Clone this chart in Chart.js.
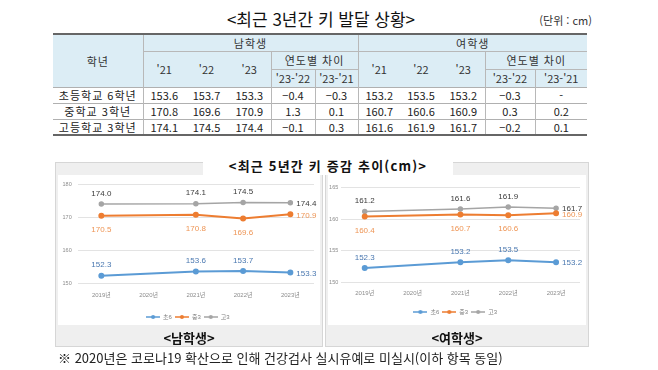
<!DOCTYPE html>
<html lang="ko">
<head>
<meta charset="utf-8">
<script src="https://cdn.jsdelivr.net/npm/chart.js@4.4.1/dist/chart.umd.min.js"></script>
<style>
  html, body { margin: 0; padding: 0; background: #fff; }
  body { width: 658px; height: 370px; position: relative; overflow: hidden;
         font-family: 'Noto Sans CJK KR', sans-serif; color: #222; }
  .abs { position: absolute; }
  #title { left: 0; width: 642px; top: 7px; text-align: center; font-size: 17px; line-height: 24px; color: #111; }
  #unit { right: 66px; top: 13px; font-size: 11px; line-height: 14px; color: #333; }
  #tbl { left: 53px; top: 33px; width: 534px; border-collapse: collapse; table-layout: fixed;
         font-size: 11px; border-top: 2px solid #666; border-bottom: 2px solid #666; }
  #tbl td { padding: 0; text-align: center; line-height: 14px; white-space: nowrap; overflow: hidden; }
  #tbl td.h { background: #dcedf5; color: #333; }
  #tbl td.kr { letter-spacing: 1px; }
  #tbl td.vl { border-left: 1px solid #b8b8b8; }
  #tbl td.bb { border-bottom: 1px solid #b8b8b8; }
  #tbl tr.data td { border-top: 1px solid #b0b0b0; }
  .panel { background: #efefef; border: 1px solid #d6d6d6; box-sizing: border-box; }
  .inner { background: #fff; }
  #ctitle { left: 203px; top: 155px; width: 250px; height: 20px; background: #fff; text-align: center;
            font-size: 13px; font-weight: bold; line-height: 22px; letter-spacing: 1.2px; color: #111; }
  .plabel { font-size: 13px; font-weight: bold; line-height: 16px; text-align: center; color: #111; }
  #note { left: 58px; top: 349px; font-size: 13px; line-height: 18px; color: #222; white-space: nowrap; }
</style>
</head>
<body>
<div id="title" class="abs">&lt;최근 3년간 키 발달 상황&gt;</div>
<div id="unit" class="abs">(단위 : cm)</div>
<table id="tbl" class="abs">
  <colgroup>
    <col style="width:90px"><col style="width:42px"><col style="width:43px"><col style="width:43px">
    <col style="width:44px"><col style="width:43px"><col style="width:42px"><col style="width:42px">
    <col style="width:43px"><col style="width:50px"><col style="width:52px">
  </colgroup>
  <tbody id="tbody"></tbody>
</table>

<div class="abs panel" style="left:55px;top:162px;width:268px;height:185px"></div>
<div class="abs inner" style="left:58px;top:175px;width:262px;height:150px"></div>
<div class="abs panel" style="left:325px;top:162px;width:264px;height:185px"></div>
<div class="abs inner" style="left:328px;top:175px;width:258px;height:150px"></div>
<div id="ctitle" class="abs">&lt;최근 5년간 키 증감 추이(cm)&gt;</div>
<canvas id="boyChart" class="abs" style="left:58px;top:175px" width="262" height="155"></canvas>
<canvas id="girlChart" class="abs" style="left:328px;top:175px" width="258" height="150"></canvas>
<div class="abs plabel" style="left:55px;top:330px;width:268px">&lt;남학생&gt;</div>
<div class="abs plabel" style="left:325px;top:330px;width:264px">&lt;여학생&gt;</div>
<div id="note" class="abs">※ 2020년은 코로나19 확산으로 인해 건강검사 실시유예로 미실시(이하 항목 동일)</div>

<script>
// 표 데이터
const tableGrades = ['초등학교 6학년', '중학교 3학년', '고등학교 3학년'];
const tableYears = ["'21", "'22", "'23"];
const tableDiffs = ["'23-'22", "'23-'21"];
const boyHeights = [[153.6, 153.7, 153.3], [170.8, 169.6, 170.9], [174.1, 174.5, 174.4]];
const boyDiffs = [['−0.4', '−0.3'], ['1.3', '0.1'], ['−0.1', '0.3']];
const girlHeights = [[153.2, 153.5, 153.2], [160.7, 160.6, 160.9], [161.6, 161.9, 161.7]];
const girlDiffs = [['−0.3', '-'], ['0.3', '0.2'], ['−0.2', '0.1']];

// 그래프 데이터 (2020년은 미실시)
const years = ['2019년', '2020년', '2021년', '2022년', '2023년'];
const seriesNames = ['초6', '중3', '고3'];
const boyE6 = [152.3, null, 153.6, 153.7, 153.3];
const boyM3 = [170.5, null, 170.8, 169.6, 170.9];
const boyH3 = [174.0, null, 174.1, 174.5, 174.4];
const girlE6 = [152.3, null, 153.2, 153.5, 153.2];
const girlM3 = [160.4, null, 160.7, 160.6, 160.9];
const girlH3 = [161.2, null, 161.6, 161.9, 161.7];
const boyYTicks = [150, 160, 170, 180];
const girlYTicks = [150, 155, 160, 165];

// 표 만들기
const tbody = document.getElementById('tbody');
function td(text, cls, attrs) {
  const c = document.createElement('td');
  c.textContent = text;
  if (cls) c.className = cls;
  if (attrs) Object.entries(attrs).forEach(([k, v]) => c.setAttribute(k, v));
  return c;
}
let tr = document.createElement('tr');
tr.style.height = '17px';
tr.appendChild(td('학년', 'h kr', { rowspan: 3 }));
tr.appendChild(td('남학생', 'h kr vl bb', { colspan: 5 }));
tr.appendChild(td('여학생', 'h kr vl bb', { colspan: 5 }));
tbody.appendChild(tr);

tr = document.createElement('tr');
tr.style.height = '18px';
[0, 1].forEach(g => {
  tableYears.forEach((y, i) => tr.appendChild(td(y, 'h' + (i === 0 ? ' vl' : ''), { rowspan: 2 })));
  tr.appendChild(td('연도별 차이', 'h kr vl bb', { colspan: 2 }));
});
tbody.appendChild(tr);

tr = document.createElement('tr');
tr.style.height = '18px';
[0, 1].forEach(g => {
  tableDiffs.forEach(d => tr.appendChild(td(d, 'h vl')));
});
tbody.appendChild(tr);

tableGrades.forEach((name, r) => {
  const row = document.createElement('tr');
  row.className = 'data';
  row.style.height = '16px';
  row.appendChild(td(name, 'kr'));
  [[boyHeights, boyDiffs], [girlHeights, girlDiffs]].forEach(([hs, ds]) => {
    hs[r].forEach((v, i) => row.appendChild(td(v.toFixed(1), i === 0 ? 'vl' : '')));
    ds[r].forEach(v => row.appendChild(td(v, 'vl')));
  });
  tbody.appendChild(row);
});

// 그래프
Chart.defaults.font.family = "'Liberation Sans', 'Noto Sans CJK KR', sans-serif";
const BLUE = '#5b9bd5', ORANGE = '#ed7d31', GREY = '#a5a5a5';

function legendIcon(color) {
  const c = document.createElement('canvas');
  c.width = 14; c.height = 6;
  const x = c.getContext('2d');
  x.strokeStyle = color; x.lineWidth = 1.5;
  x.beginPath(); x.moveTo(0, 3); x.lineTo(14, 3); x.stroke();
  x.fillStyle = color;
  x.beginPath(); x.arc(7, 3, 2, 0, Math.PI * 2); x.fill();
  return c;
}
const icons = [legendIcon(BLUE), legendIcon(ORANGE), legendIcon(GREY)];

// 값 라벨
const valueLabels = {
  id: 'valueLabels',
  afterDatasetsDraw(chart) {
    const ctx = chart.ctx;
    chart.data.datasets.forEach((ds, di) => {
      const meta = chart.getDatasetMeta(di);
      meta.data.forEach((pt, i) => {
        const v = ds.data[i];
        if (v == null) return;
        ctx.save();
        ctx.font = "8px 'Liberation Sans', sans-serif";
        ctx.fillStyle = ds.labelColor;
        ctx.textBaseline = 'middle';
        if (i === ds.data.length - 1) {
          ctx.textAlign = 'left';
          ctx.fillText(v.toFixed(1), pt.x + 6, pt.y + 1);
        } else {
          ctx.textAlign = 'center';
          ctx.fillText(v.toFixed(1), pt.x, pt.y + (ds.labelSide === 'top' ? -10.5 : 14));
        }
        ctx.restore();
      });
    });
  }
};

function buildChart(id, e6, m3, h3, yTicks, lay) {
  return new Chart(document.getElementById(id), {
    type: 'line',
    data: {
      labels: years,
      datasets: [
        { label: seriesNames[0], data: e6, borderColor: BLUE, backgroundColor: BLUE, borderWidth: 2,
          labelColor: '#4a78b0', labelSide: 'top' },
        { label: seriesNames[1], data: m3, borderColor: ORANGE, backgroundColor: ORANGE, borderWidth: 2,
          labelColor: '#ee9555', labelSide: 'bottom' },
        { label: seriesNames[2], data: h3, borderColor: GREY, backgroundColor: GREY, borderWidth: 1.5,
          labelColor: '#3a3a3a', labelSide: 'top' }
      ]
    },
    options: {
      responsive: false,
      animation: false,
      devicePixelRatio: 1,
      spanGaps: true,
      elements: { point: { radius: 2, borderWidth: 1 }, line: { tension: 0 } },
      layout: { padding: { top: lay.top, left: 0, right: lay.right, bottom: 0 } },
      scales: {
        x: {
          offset: true,
          grid: { display: false, drawTicks: false },
          border: { display: false },
          ticks: { font: { size: 6 }, color: '#8c8c8c', padding: lay.xPad, maxRotation: 0 },
          afterFit(s) { s.height = lay.xh; }
        },
        y: {
          min: yTicks[0],
          max: yTicks[yTicks.length - 1],
          afterBuildTicks(s) { s.ticks = yTicks.map(v => ({ value: v })); },
          ticks: { font: { size: 5.5 }, color: '#8c8c8c', padding: lay.yPad },
          grid: { color: '#e3e3e3', drawTicks: false },
          border: { display: false },
          afterFit(s) { s.width = lay.yw; }
        }
      },
      plugins: {
        tooltip: { enabled: false },
        legend: {
          position: 'bottom',
          labels: {
            usePointStyle: true,
            pointStyleWidth: 14,
            boxHeight: 6,
            padding: 3,
            font: { size: 6 },
            color: '#7f7f7f',
            generateLabels(chart) {
              const items = Chart.defaults.plugins.legend.labels.generateLabels(chart);
              items.forEach((it, i) => { it.pointStyle = icons[i]; });
              return items;
            }
          }
        }
      }
    },
    plugins: [valueLabels]
  });
}

buildChart('boyChart', boyE6, boyM3, boyH3, boyYTicks,
  { top: 8.3, right: 2.3, yw: 19.7, yPad: 6, xPad: 8, xh: 27.7 });
buildChart('girlChart', girlE6, girlM3, girlH3, girlYTicks,
  { top: 12.3, right: 3.6, yw: 12.8, yPad: 2.5, xPad: 7, xh: 23.4 });
</script>
</body>
</html>
